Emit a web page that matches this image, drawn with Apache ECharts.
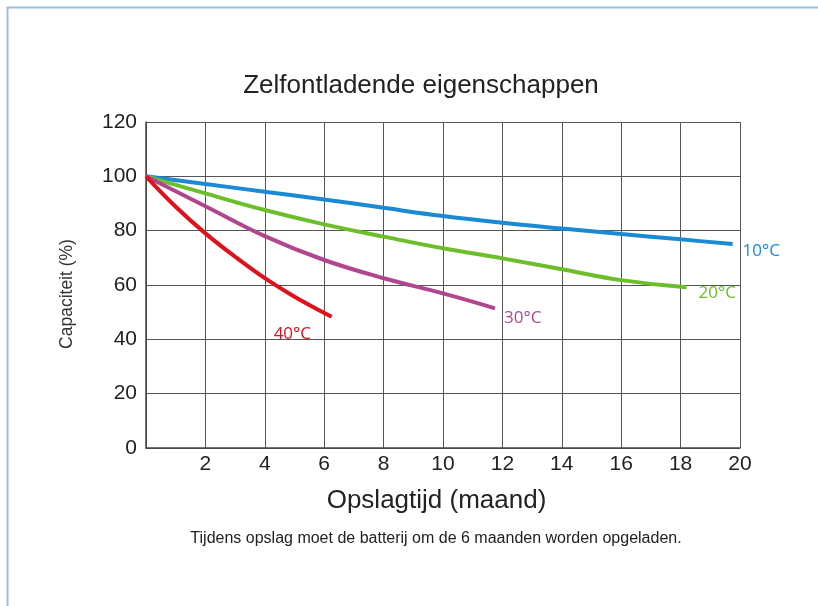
<!DOCTYPE html>
<html>
<head>
<meta charset="utf-8">
<script src="https://cdn.jsdelivr.net/npm/echarts@6/dist/echarts.min.js"></script>
<style>html,body{margin:0;padding:0;background:#fff;}#c{width:818px;height:606px;}</style>
</head>
<body>
<div id="c"></div>
<script>
const seriesNames = ['10°C', '20°C', '30°C', '40°C'];
const months10 = [0, 2, 4, 6, 8, 10, 12, 14, 16, 18, 19.75];
const cap10    = [100, 97.2, 94.3, 91.5, 88.4, 85.4, 82.9, 80.8, 78.8, 76.8, 75.1];
const months20 = [0, 2, 4, 6, 8, 10, 12, 14, 16, 18.2];
const cap20    = [100, 93.7, 87.6, 82.3, 77.8, 73.5, 69.8, 65.8, 61.8, 59.2];
const months30 = [0, 2, 4, 6, 8, 10, 11.75];
const cap30    = [100, 89, 78, 69.2, 62.5, 56.9, 51.4];
const months40 = [0, 1, 2, 3, 4, 5, 6.25];
const cap40    = [100, 88.8, 79, 70.4, 62.5, 55.7, 48.3];
const xTicks = [2, 4, 6, 8, 10, 12, 14, 16, 18, 20];
const yTicks = [0, 20, 40, 60, 80, 100, 120];
const colors = ['#1a8ad4', '#6cbf2a', '#b1468f', '#e0101c'];

const pair = (xs, ys) => xs.map((x, i) => [x, ys[i]]);
const allData = [pair(months10, cap10), pair(months20, cap20), pair(months30, cap30), pair(months40, cap40)];
const labelOffsets = [[2, 7], [4, 6], [1, 10], [-66, 17]];

const chart = echarts.init(document.getElementById('c'), null, {renderer: 'canvas'});
chart.setOption({
  animation: false,
  backgroundColor: '#ffffff',
  title: [{
    text: 'Zelfontladende eigenschappen',
    left: 416, top: 68, textAlign: 'center',
    textStyle: {fontFamily: 'Liberation Sans', fontSize: 26, fontWeight: 'normal', color: '#222'}
  }, {
    text: 'Tijdens opslag moet de batterij om de 6 maanden worden opgeladen.',
    left: 431, top: 526, textAlign: 'center',
    textStyle: {fontFamily: 'Liberation Sans', fontSize: 16, fontWeight: 'normal', color: '#222'}
  }],
  graphic: [
    {type: 'line', shape: {x1: 7, y1: 7.5, x2: 818, y2: 7.5}, style: {stroke: '#9dbfdc', lineWidth: 2}},
    {type: 'line', shape: {x1: 7.5, y1: 7, x2: 7.5, y2: 606}, style: {stroke: '#9dbfdc', lineWidth: 2}}
  ],
  grid: {left: 146, right: 78, top: 122, bottom: 158, containLabel: false},
  xAxis: {
    type: 'value', min: 0, max: 20, interval: 2,
    name: 'Opslagtijd (maand)', nameLocation: 'middle', nameGap: 40,
    nameTextStyle: {fontFamily: 'Liberation Sans', fontSize: 26, color: '#222', padding: [0, 13, 0, 0]},
    axisLine: {show: true, lineStyle: {color: '#444', width: 1.5}},
    axisTick: {show: false},
    splitLine: {show: true, lineStyle: {color: '#555', width: 1}},
    axisLabel: {
      fontFamily: 'Liberation Sans', fontSize: 21, color: '#222', margin: 6,
      formatter: v => (xTicks.indexOf(v) >= 0 ? String(v) : '')
    }
  },
  yAxis: {
    type: 'value', min: 0, max: 120, interval: 20,
    name: 'Capaciteit (%)', nameLocation: 'middle', nameGap: 70, nameRotate: 90,
    nameTextStyle: {fontFamily: 'Liberation Sans', fontSize: 17.5, color: '#333', padding: [0, 18, 0, 0]},
    axisLine: {show: true, lineStyle: {color: '#444', width: 1.5}},
    axisTick: {show: false},
    splitLine: {show: true, lineStyle: {color: '#555', width: 1}},
    axisLabel: {
      fontFamily: 'Liberation Sans', fontSize: 21, color: '#222', margin: 9,
      formatter: v => (yTicks.indexOf(v) >= 0 ? String(v) : '')
    }
  },
  series: seriesNames.map((n, i) => ({
    name: n, type: 'line', smooth: 0.4, symbol: 'none',
    data: allData[i],
    lineStyle: {color: colors[i], width: 4},
    itemStyle: {color: colors[i]},
    endLabel: {
      show: true, formatter: n, color: colors[i],
      fontFamily: 'Open Sans', fontSize: 17, offset: labelOffsets[i]
    }
  }))
});
</script>
</body>
</html>
